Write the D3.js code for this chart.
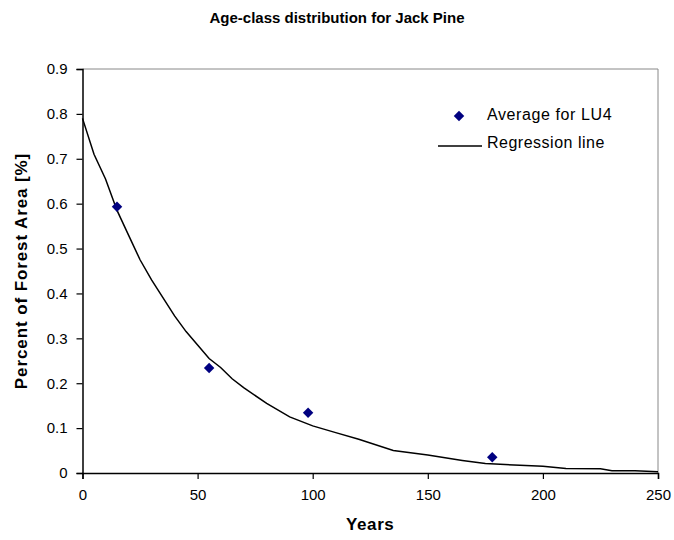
<!DOCTYPE html>
<html>
<head>
<meta charset="utf-8">
<script src="https://cdn.jsdelivr.net/npm/d3@7"></script>
<style>
  body { margin: 0; background: #fff; }
  text { font-family: "Liberation Sans", Arial, sans-serif; }
</style>
</head>
<body>
<div id="chart"></div>
<script>
// data
const avgYears = [15, 55, 98, 178];
const avgValues = [0.593, 0.234, 0.134, 0.035];

const regYears = [0, 5, 10, 15, 20, 25, 30, 35, 40, 45, 50, 55, 60, 65, 70, 80, 90, 100, 110, 120, 135, 150, 165, 175, 190, 200, 210, 225, 230, 240, 250];
const regValues = [0.79, 0.71, 0.655, 0.585, 0.53, 0.475, 0.43, 0.39, 0.35, 0.315, 0.285, 0.255, 0.235, 0.21, 0.19, 0.155, 0.125, 0.105, 0.09, 0.075, 0.05, 0.04, 0.028, 0.021, 0.017, 0.015, 0.01, 0.0095, 0.005, 0.005, 0.003];

const xTicks = [0, 50, 100, 150, 200, 250];
const yTicks = [0, 0.1, 0.2, 0.3, 0.4, 0.5, 0.6, 0.7, 0.8, 0.9];

const width = 674, height = 540;
const margin = { top: 69, right: 16, bottom: 67, left: 82.5 };

const svg = d3.select("#chart").append("svg")
  .attr("width", width)
  .attr("height", height);

const x = d3.scaleLinear().domain([0, 250]).range([margin.left, width - margin.right]);
const y = d3.scaleLinear().domain([0, 0.9]).range([height - margin.bottom, margin.top]);

// grey frame on top and right
svg.append("path")
  .attr("d", `M${x(0)},${y(0.9)}H${x(250)}V${y(0)}`)
  .attr("fill", "none")
  .attr("stroke", "#888")
  .attr("stroke-width", 1);

const xAxis = svg.append("g")
  .attr("transform", `translate(0,${y(0)})`)
  .call(d3.axisBottom(x).tickValues(xTicks).tickSize(6).tickPadding(10));

const yAxis = svg.append("g")
  .attr("transform", `translate(${x(0)},0)`)
  .call(d3.axisLeft(y).tickValues(yTicks).tickSize(6).tickPadding(9)
    .tickFormat(d => d === 0 ? "0" : d3.format(".1f")(d)));

[xAxis, yAxis].forEach(g => {
  g.select(".domain").attr("stroke", "#000").attr("stroke-width", 1.5);
  g.selectAll(".tick line").attr("stroke", "#000").attr("stroke-width", 1.2);
  g.selectAll("text").attr("font-size", 15).attr("fill", "#000")
    .style("font-family", "'Liberation Sans', Arial, sans-serif");
});

// regression line
const line = d3.line().x((d, i) => x(regYears[i])).y(d => y(d));
svg.append("path")
  .datum(regValues)
  .attr("d", line)
  .attr("fill", "none")
  .attr("stroke", "#000")
  .attr("stroke-width", 1.5);

// average points
const diamond = d3.symbol().type(d3.symbolDiamond2).size(70);
svg.selectAll("path.pt")
  .data(avgValues)
  .join("path")
  .attr("class", "pt")
  .attr("d", diamond)
  .attr("transform", (d, i) => `translate(${x(avgYears[i])},${y(d)})`)
  .attr("fill", "#000080");

// legend
svg.append("path")
  .attr("d", diamond)
  .attr("transform", "translate(459,116)")
  .attr("fill", "#000080");
svg.append("text")
  .attr("x", 487).attr("y", 120)
  .attr("font-size", 16)
  .attr("letter-spacing", 0.6)
  .text("Average for LU4");
svg.append("line")
  .attr("x1", 438).attr("x2", 482)
  .attr("y1", 146).attr("y2", 146)
  .attr("stroke", "#000").attr("stroke-width", 1.5);
svg.append("text")
  .attr("x", 487).attr("y", 148)
  .attr("font-size", 16)
  .attr("letter-spacing", 0.5)
  .text("Regression line");

// titles
svg.append("text")
  .attr("x", 337).attr("y", 23)
  .attr("text-anchor", "middle")
  .attr("font-size", 15)
  .attr("font-weight", "bold")
  .text("Age-class distribution for Jack Pine");

svg.append("text")
  .attr("x", x(125)).attr("y", 530)
  .attr("text-anchor", "middle")
  .attr("font-size", 17)
  .attr("font-weight", "bold")
  .attr("letter-spacing", 0.6)
  .text("Years");

svg.append("text")
  .attr("transform", `translate(27,${y(0.45)}) rotate(-90)`)
  .attr("text-anchor", "middle")
  .attr("font-size", 17)
  .attr("font-weight", "bold")
  .attr("letter-spacing", 0.9)
  .text("Percent of Forest Area [%]");
</script>
</body>
</html>
